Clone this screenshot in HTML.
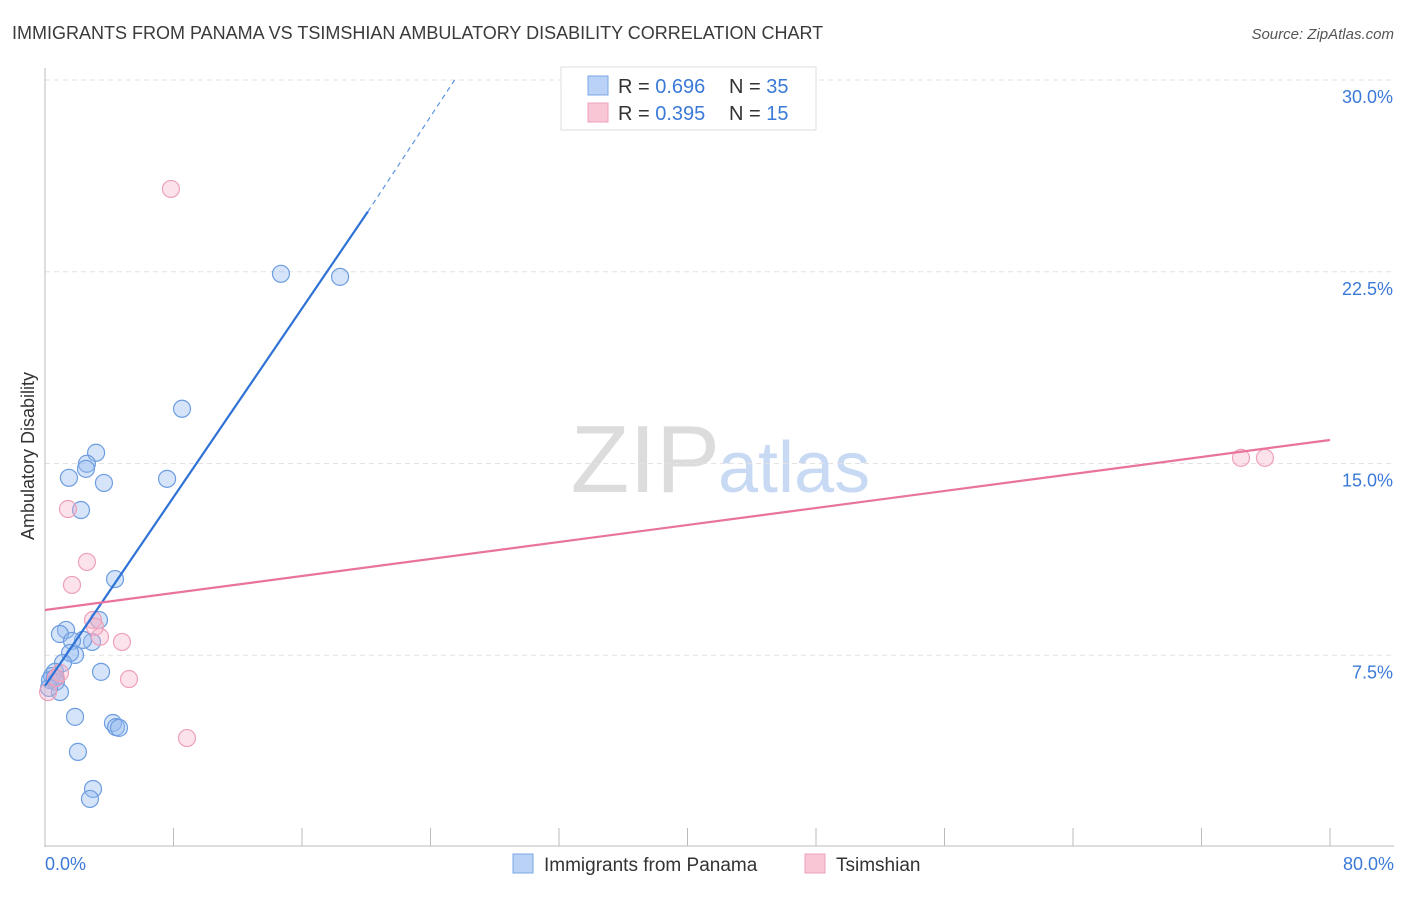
<!DOCTYPE html>
<html><head><meta charset="utf-8"><style>
body{margin:0;background:#fff;font-family:"Liberation Sans",sans-serif;}
svg text{font-family:"Liberation Sans",sans-serif;}
</style></head><body>
<svg id="chart" width="1406" height="892">
<text x="12" y="39" font-size="18" fill="#3a3a3a">IMMIGRANTS FROM PANAMA VS TSIMSHIAN AMBULATORY DISABILITY CORRELATION CHART</text>
<text x="1394" y="39" font-size="15" fill="#555" text-anchor="end" font-style="italic">Source: ZipAtlas.com</text>
<text x="720" y="492" font-size="96" fill="#dcdcdc" text-anchor="end" font-family="Liberation Serif">ZIP</text>
<text x="718" y="492" font-size="72" fill="#c8daf3">atlas</text>
<g id="grid"></g><g id="axes"></g><g id="pts"></g><g id="lines"></g>
<text transform="translate(34,456) rotate(-90)" font-size="18" fill="#333" text-anchor="middle">Ambulatory Disability</text>
<g>
<rect x="561" y="67" width="255" height="63" fill="#fff" stroke="#ddd"/>
<rect x="588" y="76" width="20" height="19" fill="#b9d2f6" stroke="#7aa7e6"/>
<rect x="588" y="103" width="20" height="19" fill="#f9c6d6" stroke="#eea0ba"/>
<text x="618" y="93" font-size="20" fill="#333">R = <tspan fill="#3b7ad8">0.696</tspan></text>
<text x="729" y="93" font-size="20" fill="#333">N = <tspan fill="#3b7ad8">35</tspan></text>
<text x="618" y="120" font-size="20" fill="#333">R = <tspan fill="#3b7ad8">0.395</tspan></text>
<text x="729" y="120" font-size="20" fill="#333">N = <tspan fill="#3b7ad8"> 15</tspan></text>
</g>
<g>
<rect x="513" y="854" width="20" height="19" fill="#b9d2f6" stroke="#7aa7e6"/>
<text x="544" y="871" font-size="19" fill="#333">Immigrants from Panama</text>
<rect x="805" y="854" width="20" height="19" fill="#f9c6d6" stroke="#eea0ba"/>
<text x="836" y="871" font-size="19" fill="#333">Tsimshian</text>
</g>
</svg>
<script>
const yTicks=[7.5,15,22.5,30];
const yTickLabels=["7.5%","15.0%","22.5%","30.0%"];
const xTickCount=10;
const blueX=[14.69,18.37,8.53,3.18,2.61,2.55,1.49,3.67,7.60,2.24,4.36,3.36,1.31,0.93,2.93,2.37,1.68,1.87,1.56,1.12,3.49,0.62,0.44,0.31,0.68,0.93,0.25,1.87,4.23,4.42,4.61,2.05,2.99,2.80,0.62];
const blueY=[22.42,22.30,17.14,15.42,14.99,14.79,14.44,14.24,14.40,13.18,10.48,8.88,8.49,8.33,8.02,8.10,8.06,7.51,7.59,7.20,6.85,6.85,6.69,6.53,6.46,6.06,6.22,5.09,4.85,4.69,4.66,3.72,2.27,1.88,6.61];
const pinkX=[7.84,1.43,2.61,1.68,2.99,3.42,4.79,5.23,8.84,74.46,75.95,0.93,0.19,0.68,3.11];
const pinkY=[25.74,13.22,11.15,10.25,8.88,8.22,8.02,6.57,4.26,15.22,15.22,6.81,6.06,6.61,8.61];
const blueTrend=[0,6.3,20.1,24.85,25.5,30];
const pinkTrend=[0,9.27,80,15.92];
const NS="http://www.w3.org/2000/svg";
const sx=v=>45+v/80*1285, sy=v=>847-v/30*767;
function mk(t,a,p){const e=document.createElementNS(NS,t);for(const k in a)e.setAttribute(k,a[k]);document.getElementById(p).appendChild(e);return e;}
yTicks.forEach((v,i)=>{
 const g=mk('line',{x1:45,x2:1394,y1:sy(v),y2:sy(v),stroke:'#e2e2e2','stroke-dasharray':'5,4'},'grid');
 
 
 const t=mk('text',{x:1393,y:sy(v)+23,'font-size':18,fill:'#3b7ad8','text-anchor':'end'},'axes');
 t.textContent=yTickLabels[i];
 
 
});
mk('line',{x1:45,x2:45,y1:68,y2:847,stroke:'#bbb'},'axes');
mk('line',{x1:45,x2:1394,y1:846,y2:846,stroke:'#bbb'},'axes');
for(let i=1;i<=xTickCount;i++){const tk=mk('line',{x1:sx(i*8),x2:sx(i*8),y1:828,y2:846,stroke:'#bbb'},'axes');
 
 }
let t0=mk('text',{x:45,y:870,'font-size':18,fill:'#3b7ad8'},'axes');t0.textContent='0.0%';


let t1=mk('text',{x:1394,y:870,'font-size':18,fill:'#3b7ad8','text-anchor':'end'},'axes');t1.textContent='80.0%';


blueX.forEach((x,i)=>{const c=mk('circle',{cx:sx(x),cy:sy(blueY[i]),r:8.5,fill:'rgba(150,188,240,0.4)',stroke:'#6d9de0','stroke-width':1.2},'pts');
 
 });
pinkX.forEach((x,i)=>{const c=mk('circle',{cx:sx(x),cy:sy(pinkY[i]),r:8.5,fill:'rgba(246,175,198,0.35)',stroke:'#eea0ba','stroke-width':1.2},'pts');
 
 });
let l1=mk('line',{x1:sx(blueTrend[0]),y1:sy(blueTrend[1]),x2:sx(blueTrend[2]),y2:sy(blueTrend[3]),stroke:'#2f72d6','stroke-width':2.2},'lines');


let l2=mk('line',{x1:sx(blueTrend[2]),y1:sy(blueTrend[3]),x2:sx(blueTrend[4]),y2:sy(blueTrend[5]),stroke:'#5b93e0','stroke-width':1.2,'stroke-dasharray':'5,4'},'lines');


let l3=mk('line',{x1:sx(pinkTrend[0]),y1:sy(pinkTrend[1]),x2:sx(pinkTrend[2]),y2:sy(pinkTrend[3]),stroke:'#e8739c','stroke-width':2.2},'lines');


</script>
</body></html>
